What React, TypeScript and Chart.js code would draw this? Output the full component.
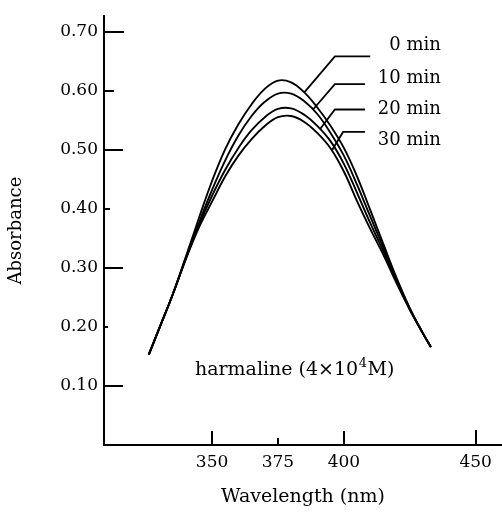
import React, { useEffect, useRef } from 'react';
import { Chart, registerables } from 'chart.js';

Chart.register(...registerables);

// ---- data ----
const wavelengths = [326, 330, 335, 340, 345, 350, 355, 360, 365, 370, 375, 380, 385, 390, 395, 400, 405, 410, 415, 420, 425, 430, 433];
const abs0min = [0.153, 0.198, 0.254, 0.318, 0.384, 0.447, 0.501, 0.543, 0.577, 0.603, 0.617, 0.614, 0.597, 0.571, 0.540, 0.503, 0.455, 0.398, 0.340, 0.283, 0.232, 0.189, 0.166];
const abs10min = [0.153, 0.198, 0.254, 0.316, 0.376, 0.432, 0.482, 0.524, 0.557, 0.581, 0.595, 0.595, 0.582, 0.560, 0.528, 0.490, 0.441, 0.387, 0.334, 0.280, 0.231, 0.189, 0.166];
const abs20min = [0.153, 0.198, 0.254, 0.315, 0.372, 0.422, 0.466, 0.503, 0.533, 0.555, 0.569, 0.570, 0.559, 0.540, 0.514, 0.476, 0.427, 0.376, 0.328, 0.277, 0.230, 0.189, 0.166];
const abs30min = [0.153, 0.198, 0.254, 0.314, 0.368, 0.412, 0.455, 0.490, 0.518, 0.540, 0.555, 0.557, 0.547, 0.528, 0.502, 0.463, 0.413, 0.366, 0.322, 0.274, 0.229, 0.189, 0.166];
const seriesLabels = ['0 min', '10 min', '20 min', '30 min'];

const xTickValues = [350, 375, 400, 450];
const yTickValues = [0.1, 0.2, 0.3, 0.4, 0.5, 0.6, 0.7];

// leader lines (data coordinates)
const leaderStartX = [385, 388.3, 391, 395.5];
const leaderStartY = [0.597, 0.568, 0.535, 0.499];
const leaderElbowX = [396.6, 396.6, 396.6, 399.7];
const leaderElbowY = [0.658, 0.611, 0.568, 0.53];
const leaderEndX = [410, 408, 408, 408];
const labelRightX = 436.8;
const labelY = [0.676, 0.621, 0.568, 0.515];

const noteText = 'harmaline (4×10';
const noteSup = '4';
const noteTail = 'M)';
const noteX = 343.5;
const noteY = 0.128;

// ---- styles ----
const FONT = '"DejaVu Serif", serif';
const X_TICK_LEN = [14, 7, 14, 15];
const Y_TICK_LEN = [19, 4, 19, 6, 19, 10, 20];

const overlayPlugin = {
  id: 'overlay',
  afterDatasetsDraw(chart: any) {
    const { ctx, chartArea } = chart;
    const x = chart.scales.x;
    const y = chart.scales.y;
    ctx.save();
    ctx.strokeStyle = '#000';
    ctx.fillStyle = '#000';
    ctx.lineWidth = 2;
    ctx.lineCap = 'butt';
    xTickValues.forEach((v, i) => {
      const px = Math.round(x.getPixelForValue(v));
      ctx.beginPath();
      ctx.moveTo(px, chartArea.bottom);
      ctx.lineTo(px, chartArea.bottom - X_TICK_LEN[i]);
      ctx.stroke();
    });
    yTickValues.forEach((v, i) => {
      const py = Math.round(y.getPixelForValue(v));
      ctx.beginPath();
      ctx.moveTo(chartArea.left, py);
      ctx.lineTo(chartArea.left + Y_TICK_LEN[i], py);
      ctx.stroke();
    });
    // leaders
    ctx.lineWidth = 1.8;
    for (let i = 0; i < seriesLabels.length; i++) {
      ctx.beginPath();
      ctx.moveTo(x.getPixelForValue(leaderStartX[i]), y.getPixelForValue(leaderStartY[i]));
      ctx.lineTo(x.getPixelForValue(leaderElbowX[i]), y.getPixelForValue(leaderElbowY[i]));
      ctx.lineTo(x.getPixelForValue(leaderEndX[i]), y.getPixelForValue(leaderElbowY[i]));
      ctx.stroke();
    }
    ctx.font = '18px ' + FONT;
    ctx.textAlign = 'right';
    ctx.textBaseline = 'middle';
    for (let i = 0; i < seriesLabels.length; i++) {
      ctx.fillText(seriesLabels[i], x.getPixelForValue(labelRightX), y.getPixelForValue(labelY[i]));
    }
    // note
    ctx.textAlign = 'left';
    ctx.textBaseline = 'alphabetic';
    const nx = x.getPixelForValue(noteX);
    const ny = y.getPixelForValue(noteY) + 6;
    ctx.font = '19px ' + FONT;
    ctx.fillText(noteText, nx, ny);
    const w1 = ctx.measureText(noteText).width;
    ctx.font = '13px ' + FONT;
    ctx.fillText(noteSup, nx + w1 + 0.5, ny - 8);
    const w2 = ctx.measureText(noteSup).width;
    ctx.font = '19px ' + FONT;
    ctx.fillText(noteTail, nx + w1 + w2 + 1, ny);
    ctx.restore();
  },
};

export default function App() {
  const ref = useRef<HTMLCanvasElement | null>(null);
  useEffect(() => {
    if (!ref.current) return;
    Chart.defaults.font.family = FONT;
    Chart.defaults.color = '#000';
    const series = [abs0min, abs10min, abs20min, abs30min];
    const chart = new Chart(ref.current, {
      type: 'line',
      data: {
        datasets: series.map((vals, i) => ({
          label: seriesLabels[i],
          data: wavelengths.map((w, j) => ({ x: w, y: vals[j] })),
          borderColor: '#000',
          borderWidth: 1.9,
          pointRadius: 0,
          fill: false,
          tension: 0.4,
        })),
      },
      options: {
        responsive: false,
        animation: false,
        layout: { padding: { top: 8, right: 0, left: 0, bottom: 0 } },
        plugins: { legend: { display: false }, tooltip: { enabled: false } },
        scales: {
          x: {
            type: 'linear',
            min: 309,
            max: 460,
            afterBuildTicks: (s: any) => {
              s.ticks = xTickValues.map((v) => ({ value: v }));
            },
            afterFit: (s: any) => {
              s.height = 69;
            },
            ticks: {
              autoSkip: false,
              maxRotation: 0,
              padding: 7,
              font: { size: 17 },
              color: '#000',
              callback: (v: any) => String(v),
            },
            grid: { display: true, drawOnChartArea: false, drawTicks: false },
            border: { display: true, color: '#000', width: 2 },
            title: {
              display: true,
              text: 'Wavelength (nm)',
              font: { size: 19 },
              color: '#000',
              padding: { top: 0, bottom: 6 },
            },
          },
          y: {
            type: 'linear',
            min: 0,
            max: 0.726,
            afterBuildTicks: (s: any) => {
              s.ticks = yTickValues.map((v) => ({ value: v }));
            },
            afterFit: (s: any) => {
              s.width = 104;
            },
            ticks: {
              autoSkip: false,
              padding: 6,
              font: { size: 17 },
              color: '#000',
              callback: (v: any) => Number(v).toFixed(2),
            },
            grid: { display: true, drawOnChartArea: false, drawTicks: false },
            border: { display: true, color: '#000', width: 2 },
            title: {
              display: true,
              text: 'Absorbance',
              font: { size: 18 },
              color: '#000',
              padding: { top: 6, bottom: 0 },
            },
          },
        },
      },
      plugins: [overlayPlugin],
    } as any);
    return () => chart.destroy();
  }, []);
  return (
    <div style={{ position: 'absolute', left: 0, top: 0, width: 502, height: 514, background: '#fff' }}>
      <canvas ref={ref} width={502} height={514} style={{ display: 'block' }} />
    </div>
  );
}
